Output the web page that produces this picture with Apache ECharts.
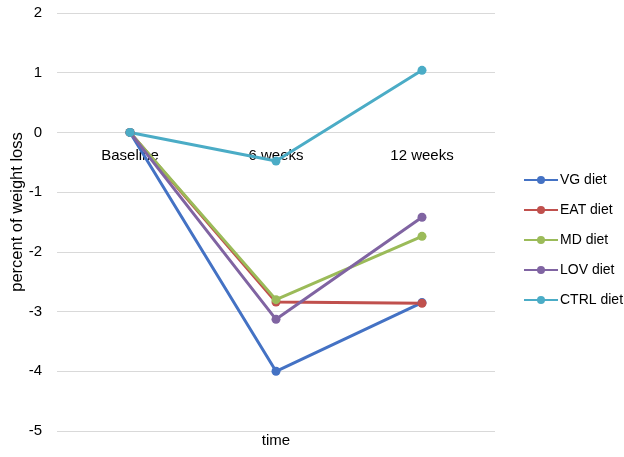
<!DOCTYPE html>
<html><head><meta charset="utf-8">
<script src="https://cdn.jsdelivr.net/npm/echarts@6/dist/echarts.min.js"></script>
<style>html,body{margin:0;padding:0;background:#fff}#c{width:624px;height:457px}</style>
</head><body><div id="c"></div>
<script>
var categories = ['Baseline', '6 weeks', '12 weeks'];
var seriesNames = ['VG diet', 'EAT diet', 'MD diet', 'LOV diet', 'CTRL diet'];
var vgValues = [0, -4.0, -2.85];
var eatValues = [0, -2.84, -2.86];
var mdValues = [0, -2.80, -1.74];
var lovValues = [0, -3.13, -1.42];
var ctrlValues = [0, -0.48, 1.04];
var colors = ['#4472C4', '#C0504D', '#9BBB59', '#8064A2', '#4BACC6'];
var allValues = [vgValues, eatValues, mdValues, lovValues, ctrlValues];

var font = '"Liberation Sans", "DejaVu Sans", sans-serif';
var chart = echarts.init(document.getElementById('c'));
chart.setOption({
  animation: false,
  title: { text: 'time', left: 276, top: 433, textAlign: 'center', padding: 0,
    textStyle: { fontFamily: font, fontSize: 15, fontWeight: 'normal', color: '#000' } },
  graphic: [{
    type: 'text', x: 17, y: 212, rotation: Math.PI / 2,
    style: { text: 'percent of weight loss', fontFamily: font, fontSize: 16.5, fill: '#000',
      align: 'center', verticalAlign: 'middle' }
  }],
  grid: { left: 57, right: 129, top: 13, bottom: 26, outerBoundsMode: 'none', containLabel: false },
  legend: {
    orient: 'vertical', left: 518, top: 168, itemGap: 16,
    itemWidth: 34, itemHeight: 10,
    data: seriesNames,
    textStyle: { fontFamily: font, fontSize: 14, color: '#000', padding: [0, 0, 0, -3] }
  },
  xAxis: {
    type: 'category', data: categories, boundaryGap: true,
    position: 'top', offset: -118,
    axisLine: { show: false },
    axisTick: { show: false },
    axisLabel: { inside: true, margin: 17, fontFamily: font, fontSize: 15, color: '#000' }
  },
  yAxis: {
    type: 'value', min: -5, max: 2, interval: 1,
    axisLine: { show: false }, axisTick: { show: false },
    axisLabel: { margin: 15, fontFamily: font, fontSize: 15, color: '#000' },
    splitLine: { lineStyle: { color: '#d9d9d9', width: 1 } }
  },
  series: seriesNames.map(function (n, i) {
    return {
      name: n, type: 'line', data: allValues[i],
      symbol: 'circle', symbolSize: 9,
      lineStyle: { color: colors[i], width: 3 },
      itemStyle: { color: colors[i] }
    };
  })
});
</script></body></html>
